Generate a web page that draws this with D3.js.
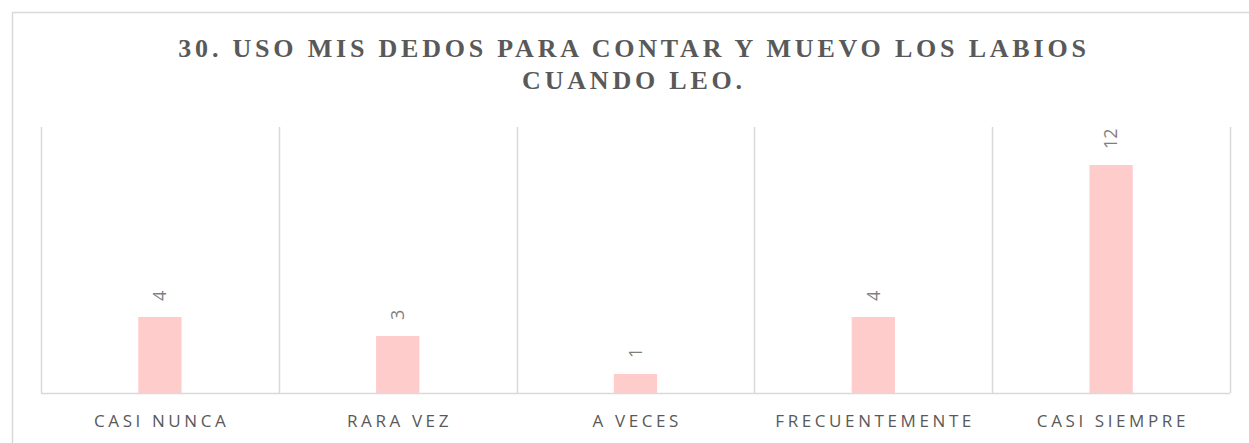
<!DOCTYPE html>
<html>
<head>
<meta charset="utf-8">
<script src="https://cdn.jsdelivr.net/npm/d3@7"></script>
<style>
  html, body { margin: 0; padding: 0; background: #fff; }
  svg { display: block; }
</style>
</head>
<body>
<svg id="chart"></svg>
<script>
const width = 1249;
const height = 443;

const titleLines = ['30. USO MIS DEDOS PARA CONTAR Y MUEVO LOS LABIOS', 'CUANDO LEO.'];
const categories = ['CASI NUNCA', 'RARA VEZ', 'A VECES', 'FRECUENTEMENTE', 'CASI SIEMPRE'];
const values = [4, 3, 1, 4, 12];
const yMax = 14;

const plot = { left: 41, right: 1230, top: 127, bottom: 393 };

const svg = d3.select('#chart')
    .attr('width', width)
    .attr('height', height);

// outer chart border (runs off the right and bottom edges)
svg.append('rect')
    .attr('x', 12.5)
    .attr('y', 12.5)
    .attr('width', 1260)
    .attr('height', 460)
    .attr('fill', '#fff')
    .attr('stroke', '#d9d9d9')
    .attr('stroke-width', 1.5);

const title = svg.append('text')
    .attr('x', 634)
    .attr('text-anchor', 'middle')
    .style('font-family', '"Liberation Serif", "Times New Roman", serif')
    .style('font-weight', 'bold')
    .style('font-size', '26px')
    .style('letter-spacing', '3.8px')
    .attr('fill', '#595959');

title.selectAll('tspan').data(titleLines)
    .enter()
    .append('tspan')
    .attr('x', 634)
    .attr('y', (d, i) => 57 + i * 31.5)
    .text(d => d);

const x = d3.scaleBand().domain(categories).range([plot.left, plot.right]).padding(0);
const y = d3.scaleLinear().domain([0, yMax]).range([plot.bottom, plot.top]);

// vertical category separators
const sepData = categories.map(c => x(c)).concat([plot.right]);
svg.append('g').selectAll('line').data(sepData)
    .enter()
    .append('line')
    .attr('x1', d => Math.round(d) + 0.5)
    .attr('x2', d => Math.round(d) + 0.5)
    .attr('y1', plot.top)
    .attr('y2', plot.bottom)
    .attr('stroke', '#d9d9d9')
    .attr('stroke-width', 1.5);

const barWidth = x.bandwidth() * 0.182;

svg.append('g').selectAll('rect').data(values)
    .enter()
    .append('rect')
    .attr('x', (d, i) => x(categories[i]) + (x.bandwidth() - barWidth) / 2)
    .attr('y', d => y(d))
    .attr('width', barWidth)
    .attr('height', d => y(0) - y(d))
    .attr('fill', '#ffcccc');

// baseline
svg.append('line')
    .attr('x1', plot.left)
    .attr('x2', plot.right)
    .attr('y1', plot.bottom + 0.5)
    .attr('y2', plot.bottom + 0.5)
    .attr('stroke', '#d9d9d9')
    .attr('stroke-width', 1.5);

// value labels, rotated
svg.append('g').selectAll('text').data(values)
    .enter()
    .append('text')
    .attr('transform', (d, i) => `translate(${x(categories[i]) + x.bandwidth() / 2}, ${y(d) - 16}) rotate(-90)`)
    .attr('dy', '0.35em')
    .attr('text-anchor', 'start')
    .style('font-family', '"Open Sans", sans-serif')
    .style('font-size', '18px')
    .attr('fill', '#7f7f7f')
    .text(d => d);

// category labels
svg.append('g').selectAll('text').data(categories)
    .enter()
    .append('text')
    .attr('x', d => x(d) + x.bandwidth() / 2 + 1.8)
    .attr('y', 427)
    .attr('text-anchor', 'middle')
    .style('font-family', '"Open Sans", sans-serif')
    .style('font-size', '17px')
    .style('letter-spacing', '3.6px')
    .attr('fill', '#595959')
    .text(d => d);
</script>
</body>
</html>
